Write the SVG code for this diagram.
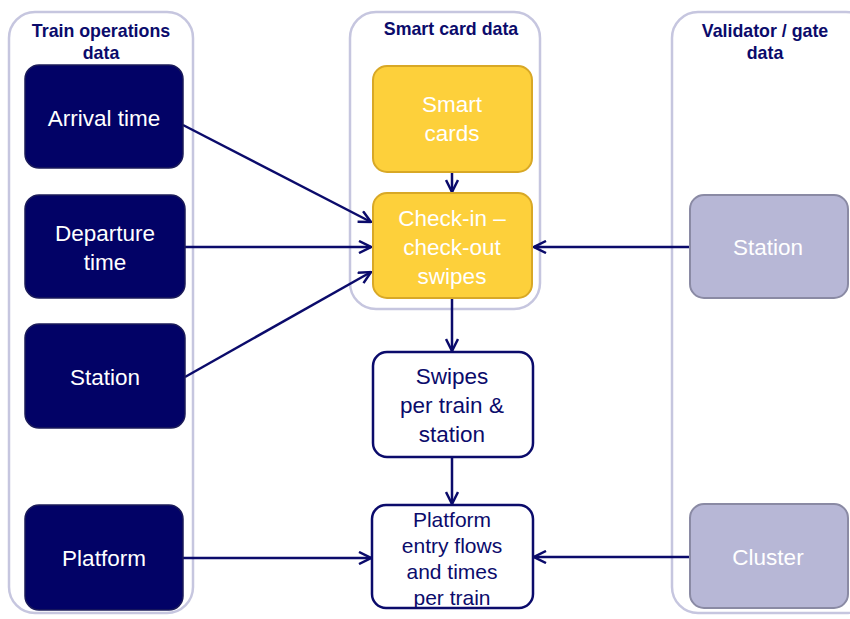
<svg xmlns="http://www.w3.org/2000/svg" width="850" height="619" viewBox="0 0 850 619">
<defs>
<style>
.panel{fill:#fff;stroke:#c6c6df;stroke-width:2.5}
.hdr{font-family:"Liberation Sans",Arial,sans-serif;font-weight:bold;font-size:17.8px;fill:#0b0b6b;text-anchor:middle}
.dark{fill:#020266;stroke:#1b1b5a;stroke-width:1.5}
.yel{fill:#fdd03b;stroke:#d8a826;stroke-width:2}
.lil{fill:#b7b7d6;stroke:#8a8aa4;stroke-width:2}
.wht{fill:#fff;stroke:#0b0b6b;stroke-width:2.5}
.t{font-family:"Liberation Sans",Arial,sans-serif;font-size:22.5px;fill:#fff;text-anchor:middle}
.tn{font-family:"Liberation Sans",Arial,sans-serif;font-size:22.5px;fill:#0b0b6b;text-anchor:middle}
.tp{font-family:"Liberation Sans",Arial,sans-serif;font-size:21px;fill:#0b0b6b;text-anchor:middle}
.c{stroke:#0b0b6b;stroke-width:2.5;fill:none;marker-end:url(#ah)}
</style>
<marker id="ah" viewBox="0 0 14 14" refX="13" refY="7" markerWidth="14" markerHeight="14" markerUnits="userSpaceOnUse" orient="auto">
<path d="M1,1 L13,7 L1,13" fill="none" stroke="#0b0b6b" stroke-width="2.5"/>
</marker>
</defs>
<rect width="850" height="619" fill="#fff"/>
<g id="panel-train">
<rect class="panel" x="9" y="12" width="184" height="601" rx="26"/>
<text class="hdr" x="101" y="37">Train operations</text>
<text class="hdr" x="101" y="59">data</text>
</g>
<g id="panel-smart">
<rect class="panel" x="350" y="12" width="190" height="297" rx="26"/>
<text class="hdr" x="451" y="35">Smart card data</text>
</g>
<g id="panel-validator">
<rect class="panel" x="672" y="12" width="200" height="601" rx="26"/>
<text class="hdr" x="765" y="37">Validator / gate</text>
<text class="hdr" x="765" y="59">data</text>
</g>
<g id="connectors">
<path class="c" d="M183,125 L371,222"/>
<path class="c" d="M185,247 L371,247"/>
<path class="c" d="M185,377 L371,272"/>
<path class="c" d="M452,172 L452,192"/>
<path class="c" d="M452,298 L452,351"/>
<path class="c" d="M452,457 L452,504"/>
<path class="c" d="M689,247 L534,247"/>
<path class="c" d="M183,558 L371,558"/>
<path class="c" d="M690,557 L534,557"/>
</g>
<g id="arrival-time">
<rect class="dark" x="25" y="65" width="158" height="103" rx="14"/>
<text class="t" x="104" y="126">Arrival  time</text>
</g>
<g id="departure-time">
<rect class="dark" x="25" y="195" width="160" height="103" rx="14"/>
<text class="t" x="105" y="241">Departure</text>
<text class="t" x="105" y="270">time</text>
</g>
<g id="station-train">
<rect class="dark" x="25" y="324" width="160" height="104" rx="14"/>
<text class="t" x="105" y="385">Station</text>
</g>
<g id="platform">
<rect class="dark" x="25" y="505" width="158" height="105" rx="14"/>
<text class="t" x="104" y="566">Platform</text>
</g>
<g id="smart-cards">
<rect class="yel" x="373" y="66" width="159" height="106" rx="14"/>
<text class="t" x="452" y="112">Smart</text>
<text class="t" x="452" y="141">cards</text>
</g>
<g id="check-in-out">
<rect class="yel" x="373" y="193" width="159" height="105" rx="14"/>
<text class="t" x="452" y="226">Check-in –</text>
<text class="t" x="452" y="255">check-out</text>
<text class="t" x="452" y="284">swipes</text>
</g>
<g id="swipes-per-train">
<rect class="wht" x="373" y="352" width="160" height="105" rx="14"/>
<text class="tn" x="452" y="384">Swipes</text>
<text class="tn" x="452" y="413">per train &amp;</text>
<text class="tn" x="452" y="442">station</text>
</g>
<g id="platform-entry">
<rect class="wht" x="372" y="505" width="161" height="103" rx="14"/>
<text class="tp" x="452" y="527">Platform</text>
<text class="tp" x="452" y="553">entry flows</text>
<text class="tp" x="452" y="579">and times</text>
<text class="tp" x="452" y="605">per train</text>
</g>
<g id="station-validator">
<rect class="lil" x="690" y="195" width="158" height="103" rx="14"/>
<text class="t" x="768" y="255">Station</text>
</g>
<g id="cluster">
<rect class="lil" x="690" y="504" width="158" height="104" rx="14"/>
<text class="t" x="768" y="565">Cluster</text>
</g>
</svg>
